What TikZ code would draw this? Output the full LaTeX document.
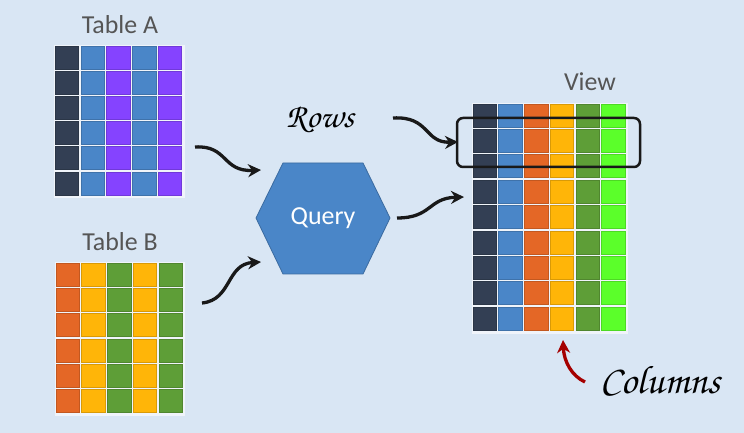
\documentclass[tikz,border=0pt]{standalone}
\usepackage[T1]{fontenc}
\usepackage{fontspec}
\setmainfont{Carlito}
\usetikzlibrary{arrows.meta}
\newcommand\handfont{\fontencoding{T1}\fontfamily{pzc}\fontseries{mb}\fontshape{it}\selectfont}
\definecolor{bgc}{HTML}{D9E6F4}
\definecolor{gapc}{HTML}{F0F4FA}
\definecolor{cdark}{HTML}{333F54}
\definecolor{cblue}{HTML}{4A86C8}
\definecolor{cpurple}{HTML}{8543FF}
\definecolor{corange}{HTML}{E46726}
\definecolor{cyellow}{HTML}{FFB508}
\definecolor{cgreen}{HTML}{5E9E37}
\definecolor{clime}{HTML}{5BFF2A}
\definecolor{titlec}{HTML}{555555}
\definecolor{redarrow}{HTML}{A50000}
\tikzset{
  cell/.style={minimum width=23.5bp, minimum height=23bp, inner sep=0pt, line width=0.6bp},
  title/.style={text=titlec, font=\fontsize{26}{26}\selectfont},
  hand/.style={text=black},
  flow/.style={line width=3.3bp, draw=black!90, -{Stealth[length=13bp,width=13bp]}},
}
\begin{document}
\begin{tikzpicture}[x=1bp,y=-1bp]
\fill[bgc] (0,0) rectangle (744,433);
\useasboundingbox (0,0) rectangle (744,433);

% Table A
\fill[gapc] (54,45) rectangle (185,198);
\foreach \c [count=\i from 0] in {cdark,cblue,cpurple,cblue,cpurple} {
  \foreach \j in {0,...,5} {
    \node[cell, fill=\c, draw=\c!85!black] (a-\i-\j) at (55+\i*25.8+11.75, 46+\j*25.2+11.5) {};
  }
}
\node[title] (titleA) at (120,25) {Table A};

% Table B
\fill[gapc] (55,262) rectangle (185,416);
\foreach \c [count=\i from 0] in {corange,cyellow,cgreen,cyellow,cgreen} {
  \foreach \j in {0,...,5} {
    \node[cell, fill=\c, draw=\c!85!black] (b-\i-\j) at (56+\i*25.7+11.75, 263+\j*25.3+11.5) {};
  }
}
\node[title] (titleB) at (120,242) {Table B};

% View
\fill[gapc] (472,103) rectangle (628,334);
\foreach \c [count=\i from 0] in {cdark,cblue,corange,cyellow,cgreen,clime} {
  \foreach \j in {0,...,8} {
    \node[cell, fill=\c, draw=\c!85!black] (v-\i-\j) at (473+\i*25.7+11.75, 104+\j*25.4+11.5) {};
  }
}
\node[title] (titleV) at (590,82) {View};

% selection box
\draw[line width=2.5bp, rounded corners=6bp, black!90] (457,118) rectangle (640,167);

% Query hexagon
\draw[fill=cblue, draw=cblue!80!black, line width=0.8bp]
  (256,218) -- (283,163) -- (363,163) -- (390,218) -- (363,274) -- (283,274) -- cycle;
\node[text=white, font=\fontsize{26}{26}\selectfont] (query) at (323,218) {Query};

% labels
\node[hand, font=\handfont\fontsize{34}{34}\selectfont] (rows) at (320,119) {Rows};
\node[hand, font=\handfont\fontsize{40}{40}\selectfont] (cols) at (660,380) {Columns};

% arrow end points
\coordinate (a1s) at (195,147); \coordinate (a1e) at (261,170);
\coordinate (a2s) at (202,303); \coordinate (a2e) at (261,262);
\coordinate (a3s) at (397,218); \coordinate (a3e) at (464,197);
\coordinate (a4s) at (393,118); \coordinate (a4e) at (458,142);
\coordinate (a5s) at (585,382); \coordinate (a5e) at (563,340);

\draw[flow] (a1s) .. controls (228,145) and (222,172) .. (a1e);
\draw[flow] (a2s) .. controls (232,300) and (226,264) .. (a2e);
\draw[flow] (a3s) .. controls (432,218) and (428,198) .. (a3e);
\draw[flow] (a4s) .. controls (430,116) and (424,143) .. (a4e);
\draw[line width=3.3bp, draw=redarrow, -{Stealth[length=13bp,width=13bp]}]
  (a5s) .. controls (572,376) and (564,362) .. (a5e);
\end{tikzpicture}
\end{document}
